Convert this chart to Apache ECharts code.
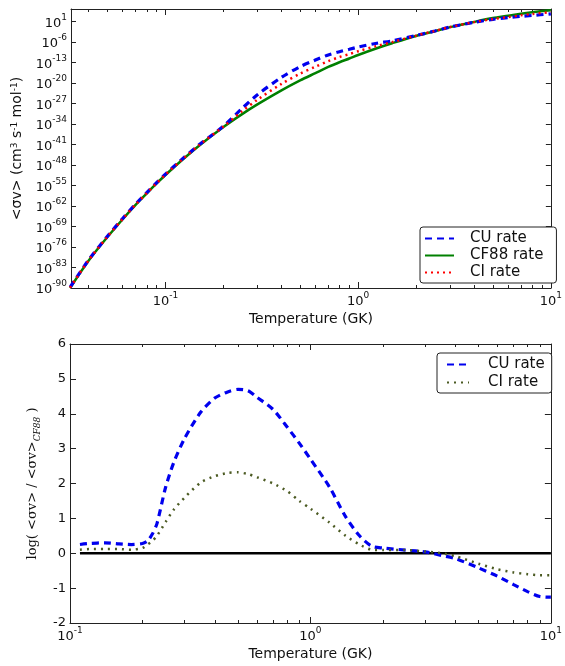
<!DOCTYPE html>
<html><head><meta charset="utf-8">
<script src="https://cdn.jsdelivr.net/npm/echarts@6/dist/echarts.min.js"></script>
<style>html,body{margin:0;padding:0;background:#fff}#c{width:565px;height:666px}</style>
</head><body><div id="c"></div>
<script>
// ---- data (temperatures in GK, rates as log10 values) ----
const topTemps = [0.032,0.04,0.05,0.06,0.07,0.08,0.09,0.1,0.12,0.15,0.2,0.25,0.3,0.4,0.5,0.6,0.7,0.8,0.9,1,1.25,1.5,2,2.5,3,4,5,6,7,8,10];
const cf88LogRate = [-90,-80.6,-72.6,-66.5,-61.6,-57.7,-54.3,-51.4,-46.7,-41.3,-35.0,-30.6,-27.3,-22.5,-19.1,-16.6,-14.5,-12.9,-11.6,-10.4,-8.1,-6.4,-3.9,-2.3,-0.9,0.9,2.2,3.0,3.7,4.2,4.9];
const cuLogRate = [-89.75,-80.35,-72.35,-66.25,-61.35,-57.45,-54.05,-51.15,-46.42,-41.01,-34.72,-28.65,-24.0,-18.05,-14.4,-12.13,-10.38,-9.28,-8.45,-7.7,-6.4,-5.6,-3.75,-2.21,-0.86,0.75,1.78,2.34,2.8,3.1,3.64];
const ciLogRate = [-89.9,-80.5,-72.5,-66.4,-61.5,-57.6,-54.2,-51.3,-46.58,-41.18,-34.85,-29.65,-25.7,-20.29,-16.78,-14.42,-12.5,-11.12,-10.1,-9.12,-7.32,-6.02,-3.81,-2.21,-0.85,0.82,1.9,2.54,3.15,3.6,4.27];

const ratioTemps = [0.11,0.12,0.14,0.16,0.18,0.2,0.21,0.22,0.23,0.25,0.27,0.3,0.35,0.4,0.45,0.5,0.55,0.6,0.7,0.8,0.9,1,1.2,1.4,1.6,1.8,2,2.5,3,3.5,4,5,6,7,8,9,10];
const cuLogRatio = [0.25,0.28,0.30,0.27,0.25,0.28,0.35,0.55,0.85,1.9,2.6,3.3,4.05,4.45,4.62,4.70,4.66,4.47,4.12,3.62,3.15,2.7,1.9,1.05,0.5,0.2,0.15,0.09,0.04,-0.06,-0.15,-0.42,-0.66,-0.9,-1.1,-1.24,-1.26];
const ciLogRatio = [0.1,0.12,0.12,0.12,0.1,0.15,0.25,0.35,0.5,0.9,1.25,1.6,2.03,2.21,2.3,2.32,2.27,2.18,2.0,1.78,1.5,1.28,0.88,0.5,0.25,0.1,0.09,0.09,0.05,0,-0.08,-0.3,-0.46,-0.55,-0.6,-0.63,-0.63];
const refTemps = [0.11,10];
const refLogRatio = [0,0];

// ---- tick labels ----
const decadeTicks = [-1,0,1];
const topRateTicks = [-90,-83,-76,-69,-62,-55,-48,-41,-34,-27,-20,-13,-6,1];
const ratioTicks = [-2,-1,0,1,2,3,4,5,6];

const FONT = 'DejaVu Sans';
const INK = '#111';
const minorTicks = [];
[-2,-1,0].forEach(d => { for (let k = 2; k <= 9; k++) minorTicks.push(d + Math.log10(k)); });

const pairs = (xs, ys) => xs.map((t, i) => [Math.log10(t), ys[i]]);
const supRich = {
  b: {fontSize: 13, fontFamily: FONT, color: INK, lineHeight: 17, verticalAlign: 'bottom'},
  s: {fontSize: 9, fontFamily: FONT, color: INK, lineHeight: 17, verticalAlign: 'top'}
};
const powLabel = v => '{b|10}{s|' + Math.round(v) + '}';
const frame = {show: true, onZero: false, lineStyle: {color: '#222', width: 1}};

function xAxes(grid, min, max) {
  const base = {type: 'value', gridIndex: grid, min: min, max: max, splitLine: {show: false}};
  return [
    Object.assign({}, base, {position: 'bottom', axisLine: frame,
      axisTick: {show: true, inside: true, length: 6, customValues: decadeTicks, lineStyle: {color: '#222'}},
      axisLabel: {show: true, customValues: decadeTicks, margin: 3, formatter: powLabel, rich: supRich},
      name: 'Temperature (GK)', nameLocation: 'middle', nameGap: 24,
      nameTextStyle: {fontFamily: FONT, fontSize: 14, color: INK}}),
    Object.assign({}, base, {position: 'bottom', axisLine: {show: false, onZero: false},
      axisTick: {show: true, inside: true, length: 3, customValues: minorTicks, lineStyle: {color: '#222'}},
      axisLabel: {show: false}}),
    Object.assign({}, base, {position: 'top', axisLine: frame,
      axisTick: {show: true, inside: true, length: 6, customValues: decadeTicks, lineStyle: {color: '#222'}},
      axisLabel: {show: false}}),
    Object.assign({}, base, {position: 'top', axisLine: {show: false, onZero: false},
      axisTick: {show: true, inside: true, length: 3, customValues: minorTicks, lineStyle: {color: '#222'}},
      axisLabel: {show: false}})
  ];
}

const legendBase = {orient: 'vertical', selectedMode: false, itemHeight: 12,
  itemStyle: {opacity: 0}, backgroundColor: '#fff', borderColor: '#222', borderWidth: 1, borderRadius: 3};

const option = {
  backgroundColor: '#fff',
  animation: false,
  grid: [
    {left: 71, top: 9, width: 486, height: 279},
    {left: 70, top: 344, width: 487, height: 279}
  ],
  xAxis: [].concat(xAxes(0, -1.49, 1), xAxes(1, -1, 1)),
  yAxis: [
    {type: 'value', gridIndex: 0, min: -90, max: 5.3, position: 'left', splitLine: {show: false}, axisLine: frame,
      axisTick: {show: true, inside: true, length: 5, customValues: topRateTicks, lineStyle: {color: '#222'}},
      axisLabel: {customValues: topRateTicks, margin: 4, formatter: powLabel, rich: supRich},
      name: '<σv> (cm{sup|3} s{sup|-1} mol{sup|-1})', nameLocation: 'middle', nameGap: 41,
      nameTextStyle: {fontFamily: FONT, fontSize: 14, color: INK,
        rich: {sup: {fontSize: 9, fontFamily: FONT, color: INK, verticalAlign: 'top', lineHeight: 16}}}},
    {type: 'value', gridIndex: 0, min: -90, max: 5.3, position: 'right', splitLine: {show: false}, axisLine: frame,
      axisTick: {show: true, inside: true, length: 5, customValues: topRateTicks, lineStyle: {color: '#222'}},
      axisLabel: {show: false}},
    {type: 'value', gridIndex: 1, min: -2, max: 6, interval: 1, position: 'left', splitLine: {show: false}, axisLine: frame,
      axisTick: {show: true, inside: true, length: 6, lineStyle: {color: '#222'}},
      axisLabel: {customValues: ratioTicks, margin: 4, fontFamily: FONT, fontSize: 13, color: INK},
      name: 'log( <σv> / <σv>{sub|CF88} )', nameLocation: 'middle', nameGap: 27,
      nameTextStyle: {fontFamily: 'DejaVu Serif', fontSize: 13, color: INK,
        rich: {sub: {fontSize: 9, fontFamily: 'DejaVu Serif', fontStyle: 'italic', color: INK, verticalAlign: 'bottom', lineHeight: 20}}}},
    {type: 'value', gridIndex: 1, min: -2, max: 6, interval: 1, position: 'right', splitLine: {show: false}, axisLine: frame,
      axisTick: {show: true, inside: true, length: 6, lineStyle: {color: '#222'}},
      axisLabel: {show: false}}
  ],
  legend: [
    Object.assign({}, legendBase, {data: ['CU rate', 'CF88 rate', 'CI rate'], left: 420, top: 227,
      itemWidth: 29, itemGap: 2, padding: [4, 13, 3, 4],
      textStyle: {fontFamily: FONT, fontSize: 15, color: INK, lineHeight: 13, padding: [0,0,0,11]}}),
    Object.assign({}, legendBase, {data: ['CU ratio', 'CI ratio'], left: 437, top: 353,
      itemWidth: 22, itemGap: 3, padding: [4, 7, 3, 9],
      formatter: n => n.replace(' ratio', ' rate'),
      textStyle: {fontFamily: FONT, fontSize: 15, color: INK, lineHeight: 13, padding: [0,0,0,14]}})
  ],
  series: [
    {name: 'CF88 rate', type: 'line', xAxisIndex: 0, yAxisIndex: 0, data: pairs(topTemps, cf88LogRate),
      symbol: 'none', smooth: 0.3, lineStyle: {color: '#008000', width: 2.5}, itemStyle: {color: '#008000'}},
    {name: 'CU rate', type: 'line', xAxisIndex: 0, yAxisIndex: 0, data: pairs(topTemps, cuLogRate),
      symbol: 'none', smooth: 0.3, lineStyle: {color: '#0000ee', width: 3.2, type: [7, 5]}, itemStyle: {color: '#0000ee'}},
    {name: 'CI rate', type: 'line', xAxisIndex: 0, yAxisIndex: 0, data: pairs(topTemps, ciLogRate),
      symbol: 'none', smooth: 0.3, lineStyle: {color: '#ff0000', width: 2.5, type: [2, 4]}, itemStyle: {color: '#ff0000'}},
    {name: 'CF88 ratio', type: 'line', xAxisIndex: 4, yAxisIndex: 2, data: pairs(refTemps, refLogRatio),
      symbol: 'none', lineStyle: {color: '#000', width: 2.5}, itemStyle: {color: '#000'}},
    {name: 'CU ratio', type: 'line', xAxisIndex: 4, yAxisIndex: 2, data: pairs(ratioTemps, cuLogRatio),
      symbol: 'none', smooth: 0.25, lineStyle: {color: '#0000ee', width: 3.2, type: [7, 5]}, itemStyle: {color: '#0000ee'}},
    {name: 'CI ratio', type: 'line', xAxisIndex: 4, yAxisIndex: 2, data: pairs(ratioTemps, ciLogRatio),
      symbol: 'none', smooth: 0.25, lineStyle: {color: '#4b5a22', width: 2.5, type: [2, 5]}, itemStyle: {color: '#4b5a22'}}
  ]
};
const chart = echarts.init(document.getElementById('c'), null, {renderer: 'canvas'});
chart.setOption(option);
</script>
</body></html>
